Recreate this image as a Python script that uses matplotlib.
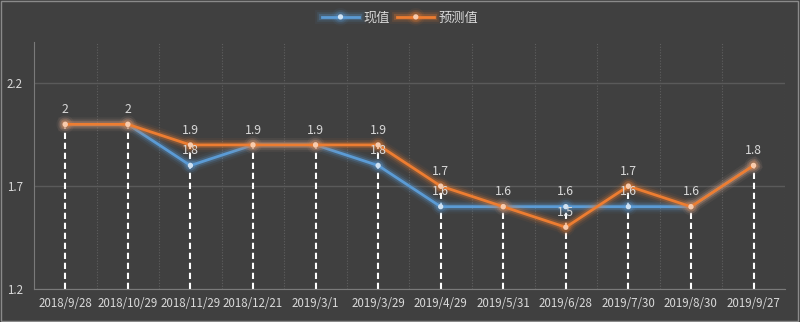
import matplotlib
matplotlib.use("Agg")
import matplotlib.pyplot as plt
import matplotlib.patheffects as pe
from matplotlib.patches import Rectangle
from matplotlib.ticker import FixedLocator

plt.rcParams['font.family'] = ['Noto Sans CJK SC', 'DejaVu Sans']

# data
dates = ['2018/9/28', '2018/10/29', '2018/11/29', '2018/12/21', '2019/3/1', '2019/3/29',
         '2019/4/29', '2019/5/31', '2019/6/28', '2019/7/30', '2019/8/30', '2019/9/27']
actual = [2, 2, 1.8, 1.9, 1.9, 1.8, 1.6, 1.6, 1.6, 1.6, 1.6, 1.8]
forecast = [2, 2, 1.9, 1.9, 1.9, 1.9, 1.7, 1.6, 1.5, 1.7, 1.6, 1.8]

bg = '#404040'
txt = '#d9d9d9'
blue = '#5b9bd5'
orange = '#ed7d31'

fig = plt.figure(figsize=(8, 3.22), dpi=100, facecolor=bg)
ax = fig.add_axes([0.0425, 0.1025, 0.9385, 0.767])
ax.set_facecolor(bg)

x = list(range(len(dates)))

# drop lines from the higher point
for i in x:
    top = max(actual[i], forecast[i])
    ax.plot([i, i], [1.2, top], color='white', lw=1.5, dashes=(3, 1.8), zorder=2)

def glow(c):
    return [pe.Stroke(linewidth=10, foreground=c, alpha=0.06),
            pe.Stroke(linewidth=7, foreground=c, alpha=0.12),
            pe.Stroke(linewidth=4.5, foreground=c, alpha=0.25),
            pe.Normal()]

ax.plot(x, actual, color=blue, lw=2, marker='o', ms=2.8, mfc='#cfe2f3', mec='#cfe2f3',
        label='现值', zorder=3, path_effects=glow(blue))
ax.plot(x, forecast, color=orange, lw=2, marker='o', ms=2.8, mfc='#f8cbad', mec='#f8cbad',
        label='预测值', zorder=4, path_effects=glow(orange))

for i in x:
    vals = [forecast[i]] if actual[i] == forecast[i] else [actual[i], forecast[i]]
    for v in vals:
        ax.annotate('{:g}'.format(v), (i, v), xytext=(0, 6), textcoords='offset points',
                    ha='center', va='bottom', fontsize=8.8, color=txt, zorder=5)

ax.set_xlim(-0.5, len(dates) - 0.5)
ax.set_ylim(1.2, 2.4)
ax.yaxis.set_major_locator(FixedLocator([1.2, 1.7, 2.2]))
ax.set_yticklabels(['1.2', '1.7', '2.2'])
ax.set_xticks(x)
ax.set_xticklabels(dates)
ax.xaxis.set_minor_locator(FixedLocator([i + 0.5 for i in x]))
ax.tick_params(which='both', length=0, colors=txt, labelsize=8.3)
ax.tick_params(axis='x', pad=6)
ax.tick_params(axis='y', pad=8)

ax.grid(axis='y', which='major', color='#5a5a5a', lw=1)
ax.grid(axis='x', which='minor', color='#5f5f5f', lw=0.8, ls=(0, (1, 1.5)))
ax.set_axisbelow(True)

for s in ['top', 'right']:
    ax.spines[s].set_visible(False)
ax.spines['left'].set_color('#7a7a7a')
ax.spines['bottom'].set_color('#7a7a7a')

leg = fig.legend(loc='center', bbox_to_anchor=(0.5, 1 - 18 / 322), ncol=2, frameon=False,
                 fontsize=9.5, labelcolor=txt, handlelength=2.8, columnspacing=0.6,
                 handletextpad=0.3)

fig.patches.append(Rectangle((0.001, 0.003), 0.997, 0.994, transform=fig.transFigure,
                             fill=False, edgecolor='#8a8a8a', lw=1))

fig.savefig('out.png', dpi=100, facecolor=bg)
